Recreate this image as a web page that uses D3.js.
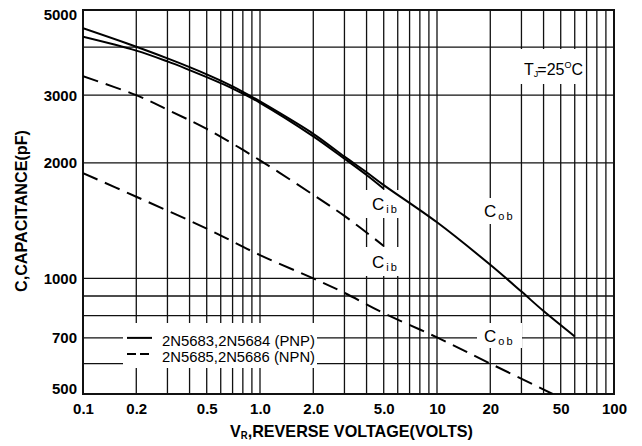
<!DOCTYPE html>
<html>
<head>
<meta charset="utf-8">
<script src="https://cdn.jsdelivr.net/npm/d3@7"></script>
<style>
  body { margin: 0; background: #fff; }
  svg { display: block; font-family: 'Liberation Sans', Arial, sans-serif; }
</style>
</head>
<body>
<svg width="642" height="446"></svg>
<script>
const d3 = window.d3

// Axis ticks and grid

const xTicks = [0.1, 0.2, 0.5, 1, 2, 5, 10, 20, 50, 100]
const xTickLabels = ['0.1', '0.2', '0.5', '1.0', '2.0', '5.0', '10', '20', '50', '100']
const yTicks = [500, 700, 1000, 2000, 3000, 5000]
const yGrid = [600, 700, 800, 900, 1000, 2000, 3000, 4000]
const decades = [0.1, 1, 10]

// Curves [volts, pF]

const pnpCob = [
  [0.1, 4480], [0.2, 4010], [0.3, 3740], [0.4, 3550], [0.5, 3400], [0.6, 3273],
  [0.7, 3161], [0.8, 3061], [0.9, 2972], [1, 2890], [2, 2380], [3, 2075],
  [4, 1890], [5, 1750], [10, 1400], [20, 1085], [30, 924], [40, 822], [60, 706]
]
const pnpCib = [
  [0.1, 4260], [0.2, 3920], [0.3, 3674], [0.4, 3488], [0.5, 3344], [0.6, 3225],
  [0.7, 3122], [0.8, 3027], [1, 2866], [2, 2344], [3, 2050], [4, 1859], [5, 1712]
]
const npnCib = [
  [0.1, 3360], [0.2, 3000], [0.3, 2750], [0.5, 2450], [1, 2030], [2, 1650],
  [3, 1455], [5, 1215]
]
const npnCob = [
  [0.1, 1880], [0.2, 1632], [0.5, 1348], [1, 1150], [2, 1000], [3, 917],
  [5, 812], [10, 702], [20, 600], [45, 500]
]

const svg = d3.select('svg')
const x = d3.scaleLog().domain([0.1, 100]).range([83, 614])
const y = d3.scaleLog().domain([500, 5000]).range([394, 10])

const xGrid = decades.flatMap(d => d3.range(1, 10).map(k => +(d * k).toPrecision(3))).slice(1)

// Grid

const grid = svg.append('g').attr('stroke', '#111').attr('stroke-width', 1.3)
grid.selectAll('line.v').data(xGrid).enter().append('line')
  .attr('x1', d => x(d)).attr('x2', d => x(d))
  .attr('y1', y(5000)).attr('y2', y(500))
grid.selectAll('line.h').data(yGrid).enter().append('line')
  .attr('y1', d => y(d)).attr('y2', d => y(d))
  .attr('x1', x(0.1)).attr('x2', x(100))

// White patches behind the labels break the grid
const patches = [
  [123, 323, 194, 45], // legend
  [505, 49, 80, 35], // Tj
  [362, 190, 42, 28], // Cib solid
  [362, 247, 42, 29], // Cib dashed
  [477, 198, 42, 26], // Cob solid
  [477, 323, 45, 25] // Cob dashed
]
svg.append('g').selectAll('rect').data(patches).enter().append('rect')
  .attr('x', d => d[0]).attr('y', d => d[1])
  .attr('width', d => d[2]).attr('height', d => d[3])
  .attr('fill', '#fff')

// Frame
svg.append('rect')
  .attr('x', x(0.1)).attr('y', y(5000))
  .attr('width', x(100) - x(0.1)).attr('height', y(500) - y(5000))
  .attr('fill', 'none').attr('stroke', '#111').attr('stroke-width', 2)

// Curves

svg.append('clipPath').attr('id', 'plot').append('rect')
  .attr('x', x(0.1)).attr('y', y(5000))
  .attr('width', x(100) - x(0.1)).attr('height', y(500) - y(5000))

const line = d3.line()
  .x(d => x(d[0]))
  .y(d => y(d[1]))
  .curve(d3.curveCatmullRom.alpha(0.5))

const curves = svg.append('g').attr('clip-path', 'url(#plot)')
  .attr('fill', 'none').attr('stroke', '#000').attr('stroke-width', 2)
curves.append('path').attr('d', line(pnpCob))
curves.append('path').attr('d', line(pnpCib))
curves.append('path').attr('d', line(npnCib)).attr('stroke-dasharray', '16,8')
curves.append('path').attr('d', line(npnCob)).attr('stroke-dasharray', '16,8')

// Axes labels

svg.append('g')
  .attr('transform', `translate(0,${y(500)})`)
  .call(d3.axisBottom(x).tickValues(xTicks).tickFormat((d, i) => xTickLabels[i]).tickSize(0).tickPadding(9))
const yAxis = svg.append('g')
  .attr('transform', `translate(${x(0.1)},0)`)
  .call(d3.axisLeft(y).tickValues(yTicks).tickFormat(d3.format('d')).tickSize(0).tickPadding(6))

svg.selectAll('.domain').remove()
svg.selectAll('.tick text')
  .attr('fill', '#000')
  .attr('font-family', "'Liberation Sans', Arial, sans-serif")
  .attr('font-size', 15)
  .attr('font-weight', 'bold')
yAxis.selectAll('.tick text').filter(d => d === 5000).attr('dy', '0.62em')
yAxis.selectAll('.tick text').filter(d => d === 500).attr('dy', '-0.05em')

// Titles

svg.append('text')
  .attr('transform', 'translate(27,211) rotate(-90)')
  .attr('text-anchor', 'middle')
  .attr('font-size', 17).attr('font-weight', 'bold')
  .attr('textLength', 162).attr('lengthAdjust', 'spacingAndGlyphs')
  .text('C,CAPACITANCE(pF)')

const xTitle = svg.append('text')
  .attr('x', 230).attr('y', 437)
  .attr('font-size', 17).attr('font-weight', 'bold')
  .attr('textLength', 243).attr('lengthAdjust', 'spacingAndGlyphs')
xTitle.append('tspan').text('V')
xTitle.append('tspan').attr('font-size', 10).attr('dy', 2).text('R')
xTitle.append('tspan').attr('dy', -2).text(',REVERSE VOLTAGE(VOLTS)')

// Annotations

const tj = svg.append('text').attr('x', 524).attr('y', 75).attr('font-size', 16)
tj.append('tspan').text('T')
tj.append('tspan').attr('font-size', 9).attr('dy', 2).text('J')
tj.append('tspan').attr('dy', -2).attr('dx', -1).text('=25')
tj.append('tspan').attr('font-size', 9).attr('dy', -7).text('O')
tj.append('tspan').attr('dy', 7).text('C')

function capLabel (px, py, sub) {
  const t = svg.append('text').attr('x', px).attr('y', py).attr('font-size', 17)
  t.append('tspan').text('C')
  t.append('tspan').attr('font-size', 11).attr('dy', 3).attr('dx', 2)
    .attr('letter-spacing', 2).text(sub)
}
capLabel(372, 210, 'ib')
capLabel(372, 268, 'ib')
capLabel(484, 217, 'ob')
capLabel(484, 342, 'ob')

// Legend

const legend = svg.append('g').attr('font-size', 14)
legend.append('line')
  .attr('x1', 127).attr('x2', 152).attr('y1', y(700)).attr('y2', y(700))
  .attr('stroke', '#000').attr('stroke-width', 2)
legend.append('line')
  .attr('x1', 127).attr('x2', 152).attr('y1', 354).attr('y2', 354)
  .attr('stroke', '#000').attr('stroke-width', 2).attr('stroke-dasharray', '9,4')
legend.append('text').attr('x', 162).attr('y', 345.5)
  .attr('textLength', 153).attr('lengthAdjust', 'spacingAndGlyphs')
  .text('2N5683,2N5684 (PNP)')
legend.append('text').attr('x', 162).attr('y', 361.5)
  .attr('textLength', 153).attr('lengthAdjust', 'spacingAndGlyphs')
  .text('2N5685,2N5686 (NPN)')
</script>
</body>
</html>
